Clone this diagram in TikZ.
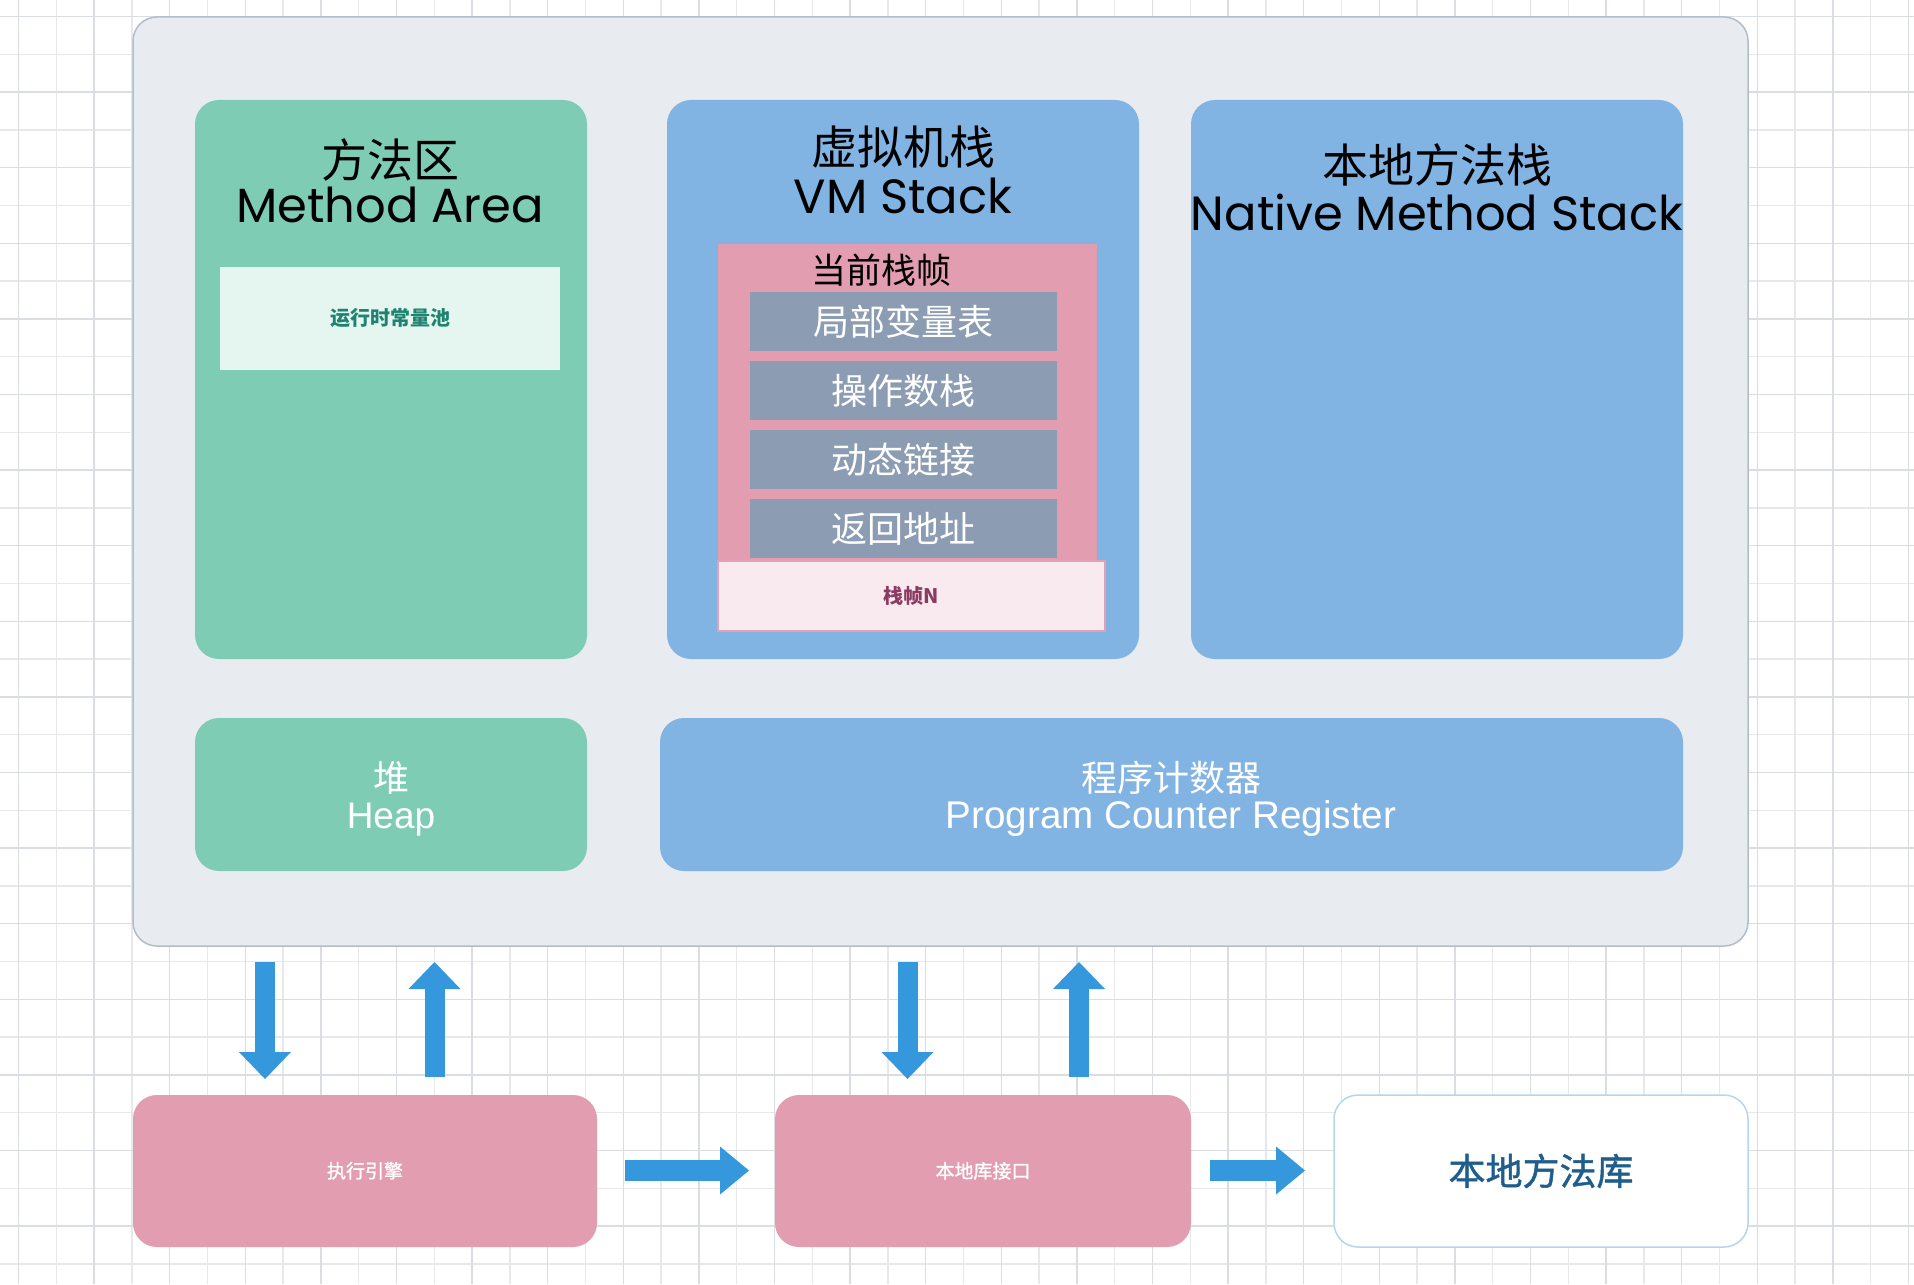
\documentclass[tikz,border=0pt]{standalone}
\usepackage{fontspec}
\setmainfont{Liberation Sans}
\newfontfamily\cjk{Noto Sans CJK SC}
\newfontfamily\cjkmed{Noto Sans CJK SC}[FakeBold=1.2]
\newfontfamily\ttl{Poppins}
\usetikzlibrary{arrows.meta}
\definecolor{gridminor}{HTML}{E6E8EC}
\definecolor{gridmajor}{HTML}{DADDE2}
\definecolor{outerfill}{HTML}{E8ECF0}
\definecolor{outerdraw}{HTML}{B3BDCA}
\definecolor{greenbox}{HTML}{7FCCB5}
\definecolor{poolfill}{HTML}{E5F5F0}
\definecolor{pooltext}{HTML}{1E8470}
\definecolor{bluebox}{HTML}{81B3E3}
\definecolor{pinkbox}{HTML}{E29DB1}
\definecolor{graybox}{HTML}{8C9CB2}
\definecolor{framefill}{HTML}{F9EAEF}
\definecolor{framedraw}{HTML}{E6A0B6}
\definecolor{frametext}{HTML}{8B3B61}
\definecolor{arrowblue}{HTML}{3597DC}
\definecolor{libdraw}{HTML}{B5D5F0}
\definecolor{libtext}{HTML}{1F5E8C}
\begin{document}
\begin{tikzpicture}[x=0.5pt,y=-0.5pt,
  box/.style={rectangle, rounded corners=12pt, inner sep=0pt, outer sep=0pt},
  sqbox/.style={rectangle, inner sep=0pt, outer sep=0pt},
  txt/.style={anchor=base, inner sep=0pt, outer sep=0pt, align=center},
  blockarrow/.style={draw=arrowblue, line width=10pt,
    -{Triangle[width=26pt,length=13.5pt,line width=0pt]}},
  sidearrow/.style={draw=arrowblue, line width=10.5pt,
    -{Triangle[width=24pt,length=14.5pt,line width=0pt]}}]
\useasboundingbox (0,0) rectangle (1914,1284);
\fill[white] (0,0) rectangle (1914,1284);
% grid
\foreach \i in {1,3,...,49} \draw[gridminor, line width=0.7pt] ({18.5+37.8*\i},0) -- ({18.5+37.8*\i},1284);
\foreach \j in {1,3,...,33} \draw[gridminor, line width=0.7pt] (0,{16.5+37.8*\j}) -- (1914,{16.5+37.8*\j});
\foreach \i in {0,2,...,50} \draw[gridmajor, line width=0.7pt] ({18.5+37.8*\i},0) -- ({18.5+37.8*\i},1284);
\foreach \j in {0,2,...,32} \draw[gridmajor, line width=0.7pt] (0,{16.5+37.8*\j}) -- (1914,{16.5+37.8*\j});

% outer container
\node[box, fill=outerfill, draw=outerdraw, line width=0.75pt, minimum width=807.5pt, minimum height=464.5pt] (outer) at (940.5,481.5) {};

% method area
\node[box, fill=greenbox, minimum width=196pt, minimum height=279.5pt] (ma) at (391,379.5) {};
\node[txt, font=\cjk\fontsize{23pt}{27pt}\selectfont] (maT1) at (390,177.5) {方法区};
\node[txt, font=\ttl\fontsize{24pt}{28pt}\selectfont] (maT2) at (390,222) {Method Area};
\node[sqbox, fill=poolfill, minimum width=170pt, minimum height=51.5pt] (pool) at (390,318.5) {};
\node[txt, font=\cjk\bfseries\fontsize{10pt}{12pt}\selectfont, text=pooltext] (poolT) at (390,325.6) {运行时常量池};

% VM stack
\node[box, fill=bluebox, minimum width=236pt, minimum height=279.5pt] (vm) at (903,379.5) {};
\node[txt, font=\cjk\fontsize{23pt}{27pt}\selectfont] (vmT1) at (903,164.5) {虚拟机栈};
\node[txt, font=\ttl\fontsize{24pt}{28pt}\selectfont] (vmT2) at (903,213) {VM Stack};
\node[sqbox, fill=pinkbox, minimum width=189.5pt, minimum height=159pt] (frame) at (907.5,403) {};
\node[txt, font=\cjk\fontsize{17.5pt}{20pt}\selectfont] (frameT) at (881,283) {当前栈帧};
\node[sqbox, fill=graybox, minimum width=153.5pt, minimum height=29.5pt] (g1) at (903.5,321.5) {};
\node[sqbox, fill=graybox, minimum width=153.5pt, minimum height=29.5pt] (g2) at (903.5,390.5) {};
\node[sqbox, fill=graybox, minimum width=153.5pt, minimum height=29.5pt] (g3) at (903.5,459.5) {};
\node[sqbox, fill=graybox, minimum width=153.5pt, minimum height=29.5pt] (g4) at (903.5,528.5) {};
\node[txt, text=white, font=\cjk\fontsize{18pt}{20pt}\selectfont] (g1T) at (903.5,335) {局部变量表};
\node[txt, text=white, font=\cjk\fontsize{18pt}{20pt}\selectfont] (g2T) at (903.5,404) {操作数栈};
\node[txt, text=white, font=\cjk\fontsize{18pt}{20pt}\selectfont] (g3T) at (903.5,473) {动态链接};
\node[txt, text=white, font=\cjk\fontsize{18pt}{20pt}\selectfont] (g4T) at (903.5,542) {返回地址};
\node[sqbox, fill=framefill, draw=framedraw, line width=0.6pt, minimum width=193.5pt, minimum height=35pt] (frameN) at (911.5,596) {};
\node[txt, text=frametext, font=\cjk\bfseries\fontsize{10pt}{12pt}\selectfont] (frameNT) at (911.5,603.6) {栈帧N};

% native method stack
\node[box, fill=bluebox, minimum width=246pt, minimum height=279.5pt] (nms) at (1437,379.5) {};
\node[txt, font=\cjk\fontsize{23pt}{27pt}\selectfont] (nmsT1) at (1437,182.5) {本地方法栈};
\node[txt, font=\ttl\fontsize{24pt}{28pt}\selectfont] (nmsT2) at (1437,230) {Native Method Stack};

% heap
\node[box, fill=greenbox, minimum width=196pt, minimum height=76.5pt] (heap) at (391,794.5) {};
\node[txt, text=white, font=\cjk\fontsize{18pt}{20pt}\selectfont] (heapT1) at (391,791) {堆};
\node[txt, text=white, font=\fontsize{18.5pt}{20pt}\selectfont] (heapT2) at (391,828) {Heap};

% program counter
\node[box, fill=bluebox, minimum width=511.5pt, minimum height=76.5pt] (pc) at (1171.5,794.5) {};
\node[txt, text=white, font=\cjk\fontsize{18pt}{20pt}\selectfont] (pcT1) at (1171,791) {程序计数器};
\node[txt, text=white, font=\fontsize{19.3pt}{21pt}\selectfont] (pcT2) at (1171,828) {Program Counter Register};

% bottom row
\node[box, fill=pinkbox, minimum width=232pt, minimum height=76pt] (exec) at (365,1171) {};
\node[txt, text=white, font=\cjkmed\fontsize{9.5pt}{11pt}\selectfont] (execT) at (365,1178) {执行引擎};
\node[box, fill=pinkbox, minimum width=208pt, minimum height=76pt] (jni) at (983,1171) {};
\node[txt, text=white, font=\cjkmed\fontsize{9.5pt}{11pt}\selectfont] (jniT) at (983,1178) {本地库接口};
\node[box, fill=white, draw=libdraw, line width=0.75pt, minimum width=207pt, minimum height=76pt] (lib) at (1541,1171) {};
\node[txt, text=libtext, font=\cjkmed\fontsize{18.5pt}{21pt}\selectfont] (libT) at (1541,1185) {本地方法库};

% arrows
\coordinate (d1s) at (265,962);   \coordinate (d1e) at (265,1079);
\coordinate (u1s) at (434.5,1077); \coordinate (u1e) at (434.5,962);
\coordinate (d2s) at (907.5,962);  \coordinate (d2e) at (907.5,1079);
\coordinate (u2s) at (1079,1077);  \coordinate (u2e) at (1079,962);
\coordinate (h1s) at (625,1170.5); \coordinate (h1e) at (749,1170.5);
\coordinate (h2s) at (1210,1170.5); \coordinate (h2e) at (1305,1170.5);
\draw[blockarrow] (d1s) -- (d1e);
\draw[blockarrow] (u1s) -- (u1e);
\draw[blockarrow] (d2s) -- (d2e);
\draw[blockarrow] (u2s) -- (u2e);
\draw[sidearrow] (h1s) -- (h1e);
\draw[sidearrow] (h2s) -- (h2e);
\end{tikzpicture}
\end{document}
